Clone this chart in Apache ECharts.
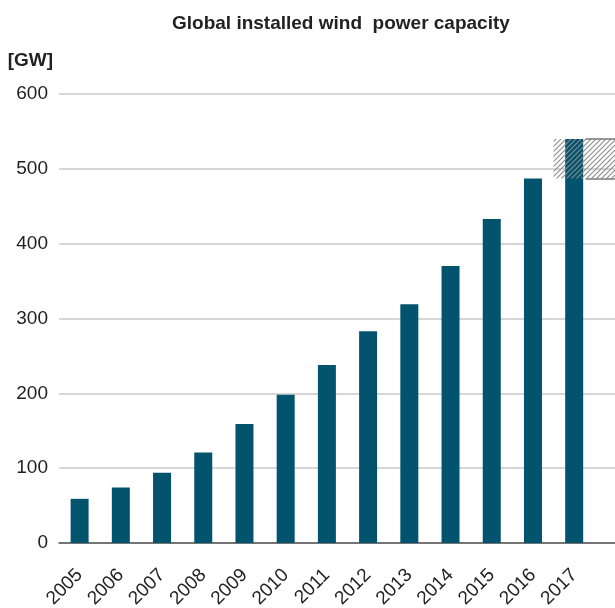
<!DOCTYPE html>
<html>
<head>
<meta charset="utf-8">
<script src="https://cdn.jsdelivr.net/npm/echarts@6/dist/echarts.min.js"></script>
<style>
  html, body { margin: 0; padding: 0; background: #fff; }
  #main { width: 615px; height: 608px; }
</style>
</head>
<body>
<div id="main"></div>
<script>
// data
var years = ['2005', '2006', '2007', '2008', '2009', '2010', '2011', '2012', '2013', '2014', '2015', '2016', '2017'];
var capacity = [59, 74, 94, 121, 159, 198, 238, 283, 319, 370, 433, 487, 540];
var yTicks = [0, 100, 200, 300, 400, 500, 600];
// growth band of the last year (2016 -> 2017), drawn hatched
var growthLow = capacity[capacity.length - 2];
var growthHigh = capacity[capacity.length - 1];

// hatch pattern
function makeHatch() {
  var c = document.createElement('canvas');
  c.width = 5; c.height = 5;
  var ctx = c.getContext('2d');
  ctx.strokeStyle = '#8c8c8c';
  ctx.lineWidth = 1.1;
  ctx.beginPath();
  ctx.moveTo(-1, 6); ctx.lineTo(6, -1);
  ctx.moveTo(-1, 1); ctx.lineTo(1, -1);
  ctx.moveTo(4, 6); ctx.lineTo(6, 4);
  ctx.stroke();
  return c;
}

// one empty slot on the right so the axis runs to the edge
var cats = years.concat(['']);
var n = cats.length;
var lastIdx = years.length - 1;

var chart = echarts.init(document.getElementById('main'));
chart.setOption({
  animation: false,
  textStyle: { fontFamily: 'Liberation Sans, Arial, sans-serif' },
  title: {
    text: 'Global installed wind  power capacity',
    left: 167,
    top: 9,
    textStyle: { fontSize: 19, fontWeight: 'bold', color: '#222' }
  },
  grid: { left: 59, width: 577, top: 94, bottom: 65, outerBoundsMode: 'none', containLabel: false },
  xAxis: [{
    type: 'category',
    data: cats,
    axisTick: { show: false },
    axisLine: { lineStyle: { color: '#555', width: 1.5 } },
    axisLabel: { rotate: 45, fontSize: 19, color: '#222', margin: 29, interval: 0 }
  }, {
    type: 'value',
    min: 0,
    max: n,
    show: false
  }],
  yAxis: {
    type: 'value',
    min: yTicks[0],
    max: yTicks[yTicks.length - 1],
    interval: 100,
    name: '[GW]',
    nameLocation: 'end',
    nameGap: 24,
    nameTextStyle: { fontSize: 19, fontWeight: 'bold', color: '#222', align: 'right', padding: [0, 6, 0, 0] },
    axisLine: { show: false },
    axisTick: { show: false },
    axisLabel: { fontSize: 19, color: '#222', margin: 11 },
    splitLine: { lineStyle: { color: '#c8c8c8', width: 1.5 } }
  },
  series: [{
    type: 'bar',
    data: capacity,
    barWidth: 18,
    z: 2,
    itemStyle: { color: '#02536e' }
  }, {
    type: 'line',
    xAxisIndex: 1,
    data: [],
    z: 5,
    zlevel: 1,
    markArea: {
      silent: true,
      z: 5,
      zlevel: 1,
      data: [
        [{ coord: [lastIdx, growthLow], itemStyle: { color: { image: makeHatch(), repeat: 'repeat' } } },
         { coord: [n, growthHigh] }]
      ]
    },
    markLine: {
      silent: true,
      z: 5,
      zlevel: 1,
      symbol: 'none',
      label: { show: false },
      lineStyle: { color: '#777', width: 1.5, type: 'solid' },
      data: [
        [{ coord: [lastIdx + 0.78, growthLow] }, { coord: [n, growthLow] }],
        [{ coord: [lastIdx + 0.78, growthHigh] }, { coord: [n, growthHigh] }]
      ]
    }
  }]
});
</script>
</body>
</html>
